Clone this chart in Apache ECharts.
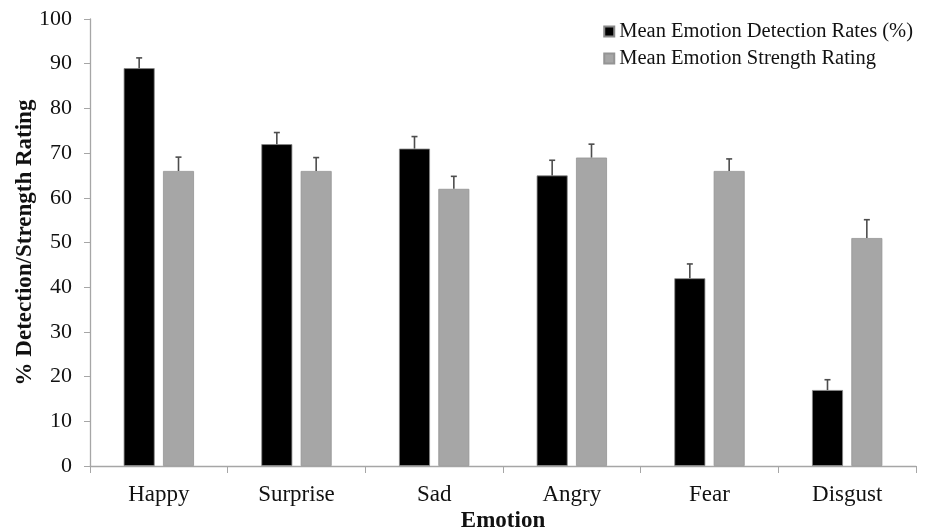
<!DOCTYPE html>
<html>
<head>
<meta charset="utf-8">
<script src="https://cdn.jsdelivr.net/npm/echarts@6/dist/echarts.min.js"></script>
<style>
  html, body { margin: 0; padding: 0; background: #fff; }
  #chart { width: 927px; height: 532px; }
</style>
</head>
<body>
<div id="chart"></div>
<script>
var emotions = ["Happy", "Surprise", "Sad", "Angry", "Fear", "Disgust"];
var detectionRates = [89, 72, 71, 65, 42, 17];
var detectionErr = [2.3, 2.6, 2.7, 3.4, 3.2, 2.3];
var strengthRating = [66, 66, 62, 69, 66, 51];
var strengthErr = [3.1, 3.0, 2.8, 3.0, 2.7, 4.1];

var barW = 0.225;
var gap = 0.27;
var font = "Liberation Serif";

var chart = echarts.init(document.getElementById("chart"));

function errorSeries(vals, errs, side) {
  var data = vals.map(function (v, i) { return [i, v, v + errs[i]]; });
  return {
    type: "custom",
    silent: true,
    z: 5,
    data: data,
    renderItem: function (params, api) {
      var band = api.size([1, 0])[0];
      var off = side * band * barW * (1 + gap) / 2;
      var base = api.coord([api.value(0), api.value(1)]);
      var top = api.coord([api.value(0), api.value(2)]);
      var x = base[0] + off;
      var st = { stroke: "#4d4d4d", lineWidth: 1.6 };
      return {
        type: "group",
        children: [
          { type: "line", shape: { x1: x, y1: base[1], x2: x, y2: top[1] }, style: st },
          { type: "line", shape: { x1: x - 3, y1: top[1], x2: x + 3, y2: top[1] }, style: st }
        ]
      };
    }
  };
}

var option = {
  animation: false,
  backgroundColor: "#fff",
  textStyle: { fontFamily: font },
  grid: { left: 90, right: 11, top: 19, bottom: 66, outerBoundsMode: "none", containLabel: false },
  legend: {
    orient: "vertical",
    right: 9,
    top: 16,
    itemWidth: 10,
    itemHeight: 10,
    itemGap: 6,
    icon: "rect",
    textStyle: { fontFamily: font, fontSize: 20.5, color: "#111" },
    data: ["Mean Emotion Detection Rates (%)", "Mean Emotion Strength Rating"]
  },
  xAxis: {
    type: "category",
    data: emotions,
    name: "Emotion",
    nameLocation: "middle",
    nameGap: 44,
    nameMoveOverlap: false,
    nameTextStyle: { fontFamily: font, fontWeight: "bold", fontSize: 23, color: "#111" },
    axisLine: { lineStyle: { color: "#a6a6a6", width: 1.3 } },
    axisTick: { show: true, length: 7, lineStyle: { color: "#a6a6a6" } },
    axisLabel: { fontFamily: font, fontSize: 23, color: "#111", margin: 17 }
  },
  yAxis: {
    type: "value",
    min: 0,
    max: 100,
    interval: 10,
    name: "% Detection/Strength Rating",
    nameLocation: "middle",
    nameGap: 53,
    nameMoveOverlap: false,
    nameTextStyle: { fontFamily: font, fontWeight: "bold", fontSize: 23, color: "#111" },
    axisLine: { show: true, lineStyle: { color: "#a6a6a6", width: 1.3 } },
    axisTick: { show: true, length: 6, lineStyle: { color: "#a6a6a6" } },
    axisLabel: { fontFamily: font, fontSize: 22, color: "#111", margin: 18 },
    splitLine: { show: false }
  },
  series: [
    {
      name: "Mean Emotion Detection Rates (%)",
      type: "bar",
      data: detectionRates,
      barWidth: (barW * 100) + "%",
      barGap: (gap * 100) + "%",
      itemStyle: { color: "#000", borderColor: "#888", borderWidth: 0.8 }
    },
    {
      name: "Mean Emotion Strength Rating",
      type: "bar",
      data: strengthRating,
      barWidth: (barW * 100) + "%",
      itemStyle: { color: "#a6a6a6", borderColor: "#949494", borderWidth: 0.8 }
    },
    errorSeries(detectionRates, detectionErr, -1),
    errorSeries(strengthRating, strengthErr, 1)
  ]
};
chart.setOption(option);
</script>
</body>
</html>
